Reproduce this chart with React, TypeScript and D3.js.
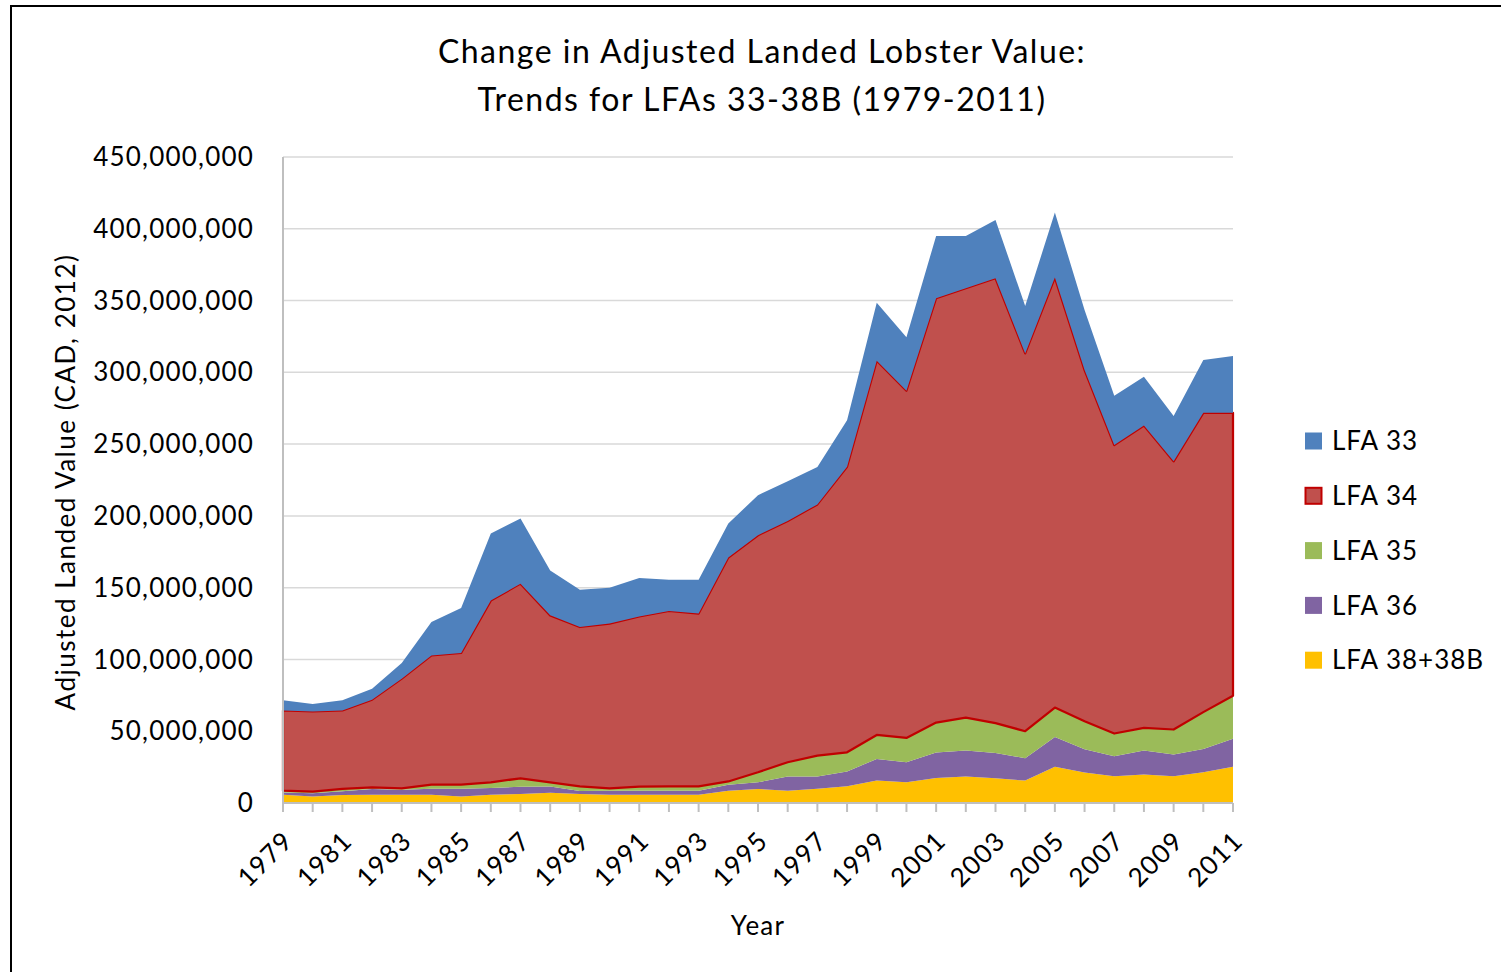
import * as d3 from "d3";

// Adjusted landed value by LFA, in millions of CAD (2012), 1979-2011
const years = d3.range(1979, 2012);

const lfa38 = [5.8, 4.6, 5.6, 5.8, 5.8, 5.8, 4.6, 5.8, 6.3, 7.2, 6.3, 5.8, 5.8, 5.8, 5.8, 8.6, 9.8, 8.6, 10.0, 11.6, 15.6, 14.4, 17.4, 18.4, 17.2, 15.6, 25.3, 21.2, 18.6, 19.8, 18.6, 21.4, 25.3];
const lfa36 = [1.6, 2.2, 2.6, 4.0, 3.4, 4.2, 5.4, 4.6, 5.0, 4.3, 2.1, 2.8, 2.8, 2.8, 2.8, 4.2, 4.6, 9.8, 8.4, 10.4, 15.1, 14.0, 17.7, 18.1, 17.7, 15.6, 20.7, 16.2, 14.0, 16.7, 15.1, 16.3, 19.4];
const lfa35 = [1.2, 1.2, 1.6, 1.1, 1.0, 2.8, 2.8, 4.0, 5.9, 2.9, 3.2, 1.6, 2.8, 3.0, 3.0, 2.2, 7.0, 10.0, 14.6, 13.3, 16.7, 16.9, 20.9, 23.0, 20.7, 18.8, 20.5, 19.6, 15.8, 15.8, 17.5, 25.6, 30.0];
const lfa34 = [55.9, 55.8, 54.7, 61.1, 76.4, 90.0, 91.7, 126.6, 135.6, 116.3, 111.0, 114.8, 118.6, 122.2, 120.4, 156.0, 165.1, 168.1, 175.0, 198.9, 260.7, 241.9, 295.6, 299.1, 309.9, 263.2, 299.5, 244.6, 200.9, 210.7, 186.8, 208.5, 197.1];
const lfa33 = [7.0, 5.2, 7.0, 7.6, 10.9, 23.2, 31.3, 46.7, 45.4, 31.3, 25.9, 25.0, 26.8, 21.8, 23.6, 23.7, 27.9, 27.7, 26.0, 32.5, 40.4, 37.2, 43.4, 36.4, 40.7, 33.0, 45.3, 41.8, 34.4, 34.0, 31.5, 36.8, 39.6];

const seriesKeys = ["LFA 38+38B", "LFA 36", "LFA 35", "LFA 34", "LFA 33"];
const seriesValues = [lfa38, lfa36, lfa35, lfa34, lfa33];
const seriesColors = ["#FFC000", "#8064A2", "#9BBB59", "#C0504D", "#4F81BD"];

const yTicks = d3.range(0, 450e6 + 1, 50e6);
const xLabelYears = years.filter((y) => (y - 1979) % 2 === 0);

const font = "Lato, 'Open Sans', sans-serif";

export default function App() {
  const width = 1501;
  const height = 972;
  const left = 283;
  const right = 1233;
  const top = 157;
  const bottom = 803;

  const x = d3.scaleLinear().domain([1979, 2011]).range([left, right]);
  const y = d3.scaleLinear().domain([0, 450e6]).range([bottom, top]);

  const rows = years.map((yr, i) => {
    const r: Record<string, number> = { year: yr };
    seriesKeys.forEach((k, j) => (r[k] = seriesValues[j][i] * 1e6));
    return r;
  });

  const stacked = d3.stack<Record<string, number>>().keys(seriesKeys)(rows);

  const area = d3
    .area<d3.SeriesPoint<Record<string, number>>>()
    .x((d) => x(d.data.year))
    .y0((d) => y(d[0]))
    .y1((d) => y(d[1]));

  const fmt = d3.format(",");

  // legend is listed top series first
  const legendOrder = [4, 3, 2, 1, 0];

  return (
    <svg
      width={width}
      height={height}
      style={{ position: "absolute", left: 0, top: 0, background: "#fff" }}
      fontFamily={font}
    >
      <rect x={11} y={6} width={1520} height={990} fill="#fff" stroke="#000" strokeWidth={2} />

      {/* title */}
      <text x={762} y={63} textAnchor="middle" fontSize={32} letterSpacing={1.5} fill="#000">
        Change in Adjusted Landed Lobster Value:
      </text>
      <text x={762} y={111} textAnchor="middle" fontSize={32} letterSpacing={1.5} fill="#000">
        Trends for LFAs 33-38B (1979-2011)
      </text>

      {/* gridlines */}
      {yTicks.slice(1).map((t) => (
        <line key={t} x1={left} x2={right} y1={y(t)} y2={y(t)} stroke="#D9D9D9" strokeWidth={1.5} />
      ))}

      {/* areas */}
      {stacked.map((s, i) => (
        <path
          key={s.key}
          d={area(s) ?? ""}
          fill={seriesColors[i]}
          stroke={s.key === "LFA 34" ? "#C00000" : "none"}
          strokeWidth={s.key === "LFA 34" ? 2.25 : 0}
          strokeLinejoin="round"
        />
      ))}

      {/* axes */}
      <line x1={left} x2={left} y1={top} y2={bottom} stroke="#BFBFBF" strokeWidth={2} />
      <line x1={left} x2={right} y1={bottom} y2={bottom} stroke="#BFBFBF" strokeWidth={2} />
      {years.map((yr) => (
        <line key={yr} x1={x(yr)} x2={x(yr)} y1={bottom} y2={bottom + 9} stroke="#BFBFBF" strokeWidth={2} />
      ))}

      {/* y tick labels */}
      {yTicks.map((t) => (
        <text key={t} x={254} y={y(t)} dy="0.35em" textAnchor="end" fontSize={26} letterSpacing={1.2} fill="#000">
          {fmt(t)}
        </text>
      ))}

      {/* x tick labels */}
      {xLabelYears.map((yr) => (
        <text
          key={yr}
          transform={`translate(${x(yr) + 5},${bottom + 33}) rotate(-45)`}
          textAnchor="end"
          dy="0.35em"
          fontSize={26}
          letterSpacing={1.2}
          fill="#000"
        >
          {yr}
        </text>
      ))}

      {/* axis titles */}
      <text x={758} y={935} textAnchor="middle" fontSize={26} letterSpacing={1.2} fill="#000">
        Year
      </text>
      <text
        transform={`translate(66,${482}) rotate(-90)`}
        textAnchor="middle"
        dy="0.35em"
        fontSize={26}
        letterSpacing={1.5}
        fill="#000"
      >
        Adjusted Landed Value (CAD, 2012)
      </text>

      {/* legend */}
      {legendOrder.map((idx, i) => {
        const cy = 441 + i * 54.8;
        const isRed = seriesKeys[idx] === "LFA 34";
        return (
          <g key={seriesKeys[idx]}>
            <rect
              x={isRed ? 1305.5 : 1305}
              y={cy - 8.5 + (isRed ? 0.5 : 0)}
              width={isRed ? 16 : 17}
              height={isRed ? 16 : 17}
              fill={seriesColors[idx]}
              stroke={isRed ? "#C00000" : "none"}
              strokeWidth={isRed ? 2 : 0}
            />
            <text x={1332} y={cy} dy="0.35em" fontSize={26} letterSpacing={1} fill="#000">
              {seriesKeys[idx]}
            </text>
          </g>
        );
      })}
    </svg>
  );
}
